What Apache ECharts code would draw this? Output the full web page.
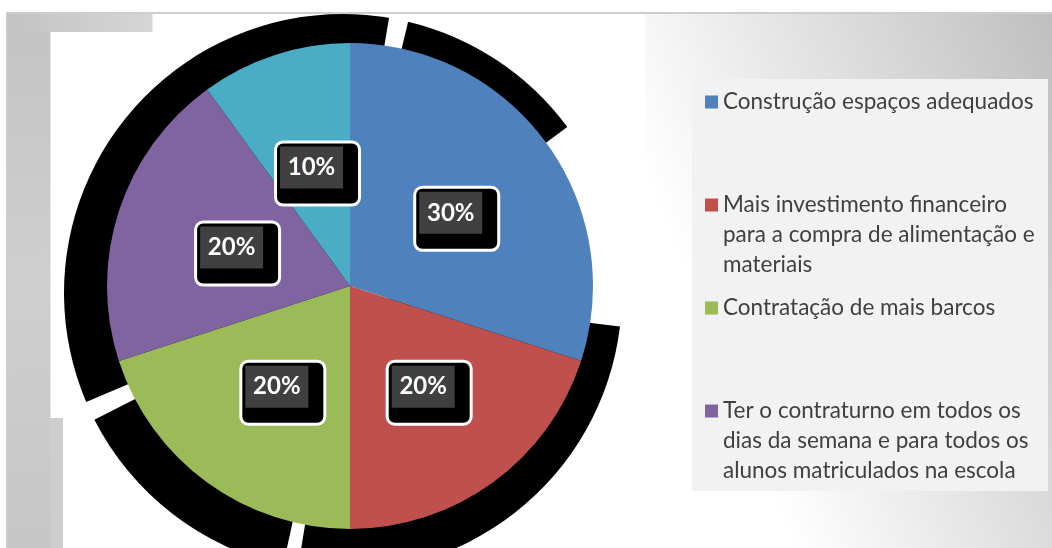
<!DOCTYPE html>
<html>
<head>
<meta charset="utf-8">
<script src="https://cdn.jsdelivr.net/npm/echarts@6/dist/echarts.min.js"></script>
<style>
html,body{margin:0;padding:0;background:#fff;}
#chart{width:1052px;height:548px;}
</style>
</head>
<body>
<div id="chart"></div>
<script>
// ---- data ----
var categories = [
  'Construção espaços adequados',
  'Mais investimento financeiro para a compra de alimentação e materiais',
  'Contratação de mais barcos',
  'Ter o contraturno em todos os dias da semana e para todos os alunos matriculados na escola',
  'Outros'
];
var values = [30, 20, 20, 20, 10];
var labels = ['30%', '20%', '20%', '20%', '10%'];
var legendLines = [
  ['Construção espaços adequados'],
  ['Mais investimento financeiro', 'para a compra de alimentação e', 'materiais'],
  ['Contratação de mais barcos'],
  ['Ter o contraturno em todos os', 'dias da semana e para todos os', 'alunos matriculados na escola']
];
var colors = ['#4f81bd', '#c0504d', '#9bbb59', '#8064a2', '#4bacc6'];
// decorative black backdrop ring: arc spans (degrees, clockwise from top), alternating black / gap
var ringSpans = [9.5, 4, 40, 43.4, 92.4, 3.1, 50.6, 4, 113];

var chart = echarts.init(document.getElementById('chart'), null, {renderer: 'canvas'});
var LG = echarts.graphic.LinearGradient;

var pieData = values.map(function (v, i) {
  return {value: v, name: categories[i], itemStyle: {color: colors[i]}, label: {formatter: '{v|' + labels[i] + '}'}};
});
var ringData = ringSpans.map(function (v, i) {
  return {value: v, name: 'r' + i, itemStyle: {color: i % 2 === 0 ? '#000' : 'rgba(0,0,0,0)'}};
});

var legendTops = [87, 130, 293, 336];
var legends = legendLines.map(function (lines, i) {
  return {
    orient: 'vertical', left: 705, top: legendTops[i], padding: 0, itemGap: 0,
    itemWidth: 13, itemHeight: 13, icon: 'rect', selectedMode: false,
    data: [categories[i]],
    formatter: function () {
      var pre = lines.length > 1 ? ' \n \n' : '';
      return pre + lines.join('\n');
    },
    textStyle: {fontFamily: 'Lato', fontSize: 22.5, color: '#404040', lineHeight: 30}
  };
});

chart.setOption({
  animation: false,
  backgroundColor: '#ffffff',
  graphic: [
    {type: 'rect', z: -100, shape: {x: 7, y: 13, width: 1050, height: 540},
      style: {fill: '#ffffff', stroke: '#bdbdbd', lineWidth: 1.5}},
    {type: 'rect', z: -99, shape: {x: 7.5, y: 14, width: 43, height: 534},
      style: {fill: new LG(0, 0, 1, 1, [{offset: 0, color: '#c3c3c3'}, {offset: 0.5, color: '#cfcfcf'}, {offset: 1, color: '#c6c6c6'}])}},
    {type: 'rect', z: -99, shape: {x: 50, y: 418, width: 13, height: 130},
      style: {fill: '#cdcdcd'}},
    {type: 'rect', z: -99, shape: {x: 7.5, y: 14, width: 145, height: 18},
      style: {fill: new LG(0, 0, 1, 0, [{offset: 0, color: '#c3c3c3'}, {offset: 1, color: '#d6d6d6'}])}},
    {type: 'rect', z: -99, shape: {x: 645, y: 14, width: 407, height: 534},
      style: {fill: new LG(0, 0.3, 1, 0, [{offset: 0, color: '#ffffff'}, {offset: 1, color: '#bfbfbf'}])}},
    {type: 'rect', z: -98, shape: {x: 692, y: 79, width: 356, height: 412},
      style: {fill: '#f2f2f2'}}
  ],
  legend: legends,
  series: [
    {
      type: 'pie', name: 'ring', z: 1, silent: true,
      center: [343, 293], radius: 279, startAngle: 90, clockwise: true,
      label: {show: false}, labelLine: {show: false},
      data: ringData
    },
    {
      type: 'pie', name: 'main', z: 2, silent: true,
      center: [350, 286], radius: 243, startAngle: 90, clockwise: true,
      data: pieData,
      itemStyle: {borderWidth: 0},
      labelLine: {show: false},
      label: {
        show: true, position: 'inside', offset: [6, 6],
        backgroundColor: '#000', borderColor: '#ffffff', borderWidth: 3, borderRadius: 6,
        padding: [3, 15, 15, 3],
        rich: {
          v: {
            width: 63, height: 42, lineHeight: 42, align: 'center',
            backgroundColor: '#404040',
            color: '#ffffff', fontFamily: 'Lato', fontWeight: 'bold', fontSize: 24
          }
        }
      }
    }
  ]
});
</script>
</body>
</html>
